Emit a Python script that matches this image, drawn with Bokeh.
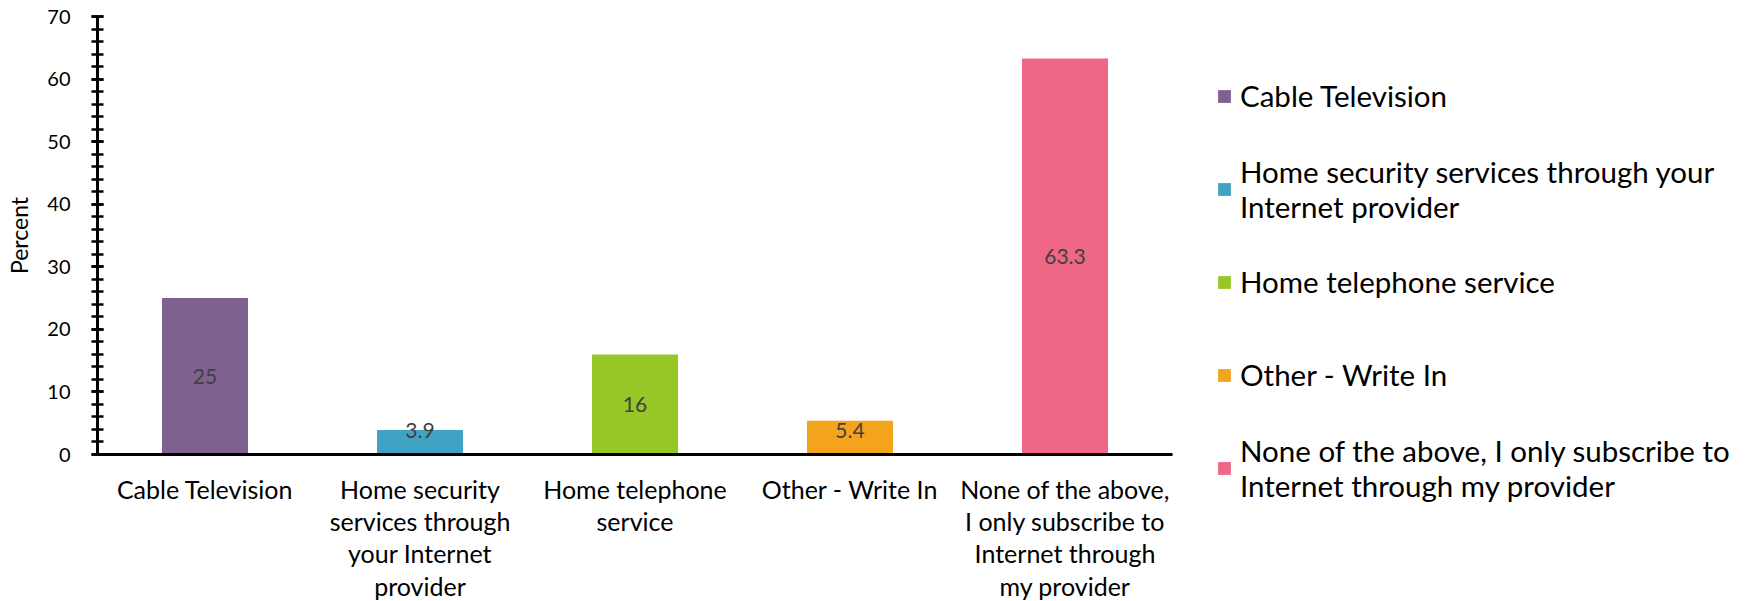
from bokeh.plotting import figure
from bokeh.models import (Range1d, FactorRange, Legend, LegendItem, ColumnDataSource,
                          LabelSet, SingleIntervalTicker)
from bokeh.core.properties import value
from bokeh.embed import file_html
from bokeh.resources import INLINE

categories = ["Cable Television",
              "Home security services through your Internet provider",
              "Home telephone service",
              "Other - Write In",
              "None of the above, I only subscribe to Internet through my provider"]
values = [25, 3.9, 16, 5.4, 63.3]
value_labels = ["25", "3.9", "16", "5.4", "63.3"]
colors = ["#7F6191", "#41A3C3", "#97C727", "#F4A31C", "#EF6687"]
tick_labels = ["Cable Television",
               "Home security\nservices through\nyour Internet\nprovider",
               "Home telephone\nservice",
               "Other - Write In",
               "None of the above,\nI only subscribe to\nInternet through\nmy provider"]
legend_labels = ["Cable Television",
                 "Home security services through your\nInternet provider",
                 "Home telephone service",
                 "Other - Write In",
                 "None of the above, I only subscribe to\nInternet through my provider"]
y_axis_title = "Percent"
y_tick_interval = 10
y_max = 70

FONT = "Lato"

label_y = [max(v / 2, 3.8) for v in values]
src = ColumnDataSource(dict(cat=tick_labels, val=values, color=colors,
                            lab=value_labels, ly=label_y))

p = figure(x_range=FactorRange(*tick_labels, range_padding=0),
           y_range=Range1d(0, y_max),
           frame_width=1075, frame_height=438,
           min_border_left=97, min_border_top=16, min_border_bottom=147,
           min_border_right=0,
           output_backend="svg", toolbar_location=None)

renderers = []
for i in range(len(categories)):
    r = p.vbar(x=[tick_labels[i]], top=[values[i]], width=0.4,
               color=colors[i], line_color=None)
    renderers.append(r)

labels = LabelSet(x="cat", y="ly", text="lab", source=src, text_align="center",
                  text_baseline="middle", text_color="#404040",
                  text_font=value(FONT), text_font_size="21px")
p.add_layout(labels)

p.grid.visible = False
p.outline_line_color = None
p.background_fill_color = "white"
p.border_fill_color = "white"

# y axis
ya = p.yaxis[0]
ya.ticker = SingleIntervalTicker(interval=y_tick_interval, num_minor_ticks=5)
ya.axis_line_width = 3
ya.axis_line_color = "black"
ya.major_tick_in = 6
ya.major_tick_out = 6
ya.minor_tick_in = 6
ya.minor_tick_out = 6
ya.major_tick_line_width = 2.5
ya.minor_tick_line_width = 2.5
ya.major_tick_line_color = "black"
ya.minor_tick_line_color = "black"
ya.major_label_text_font = FONT
ya.major_label_text_font_size = "20px"
ya.major_label_text_color = "black"
ya.major_label_standoff = 21
ya.axis_label = y_axis_title
ya.axis_label_text_font = FONT
ya.axis_label_text_font_size = "23px"
ya.axis_label_text_font_style = "normal"
ya.axis_label_text_color = "black"
ya.axis_label_standoff = 11

# x axis
xa = p.xaxis[0]
xa.axis_line_width = 3
xa.axis_line_color = "black"
xa.major_tick_line_color = None
xa.minor_tick_line_color = None
xa.major_label_text_font = FONT
xa.major_label_text_font_size = "25px"
xa.major_label_text_color = "black"
xa.major_label_text_line_height = 1.08
xa.major_label_standoff = 13

# legend
items = [LegendItem(label=legend_labels[i], renderers=[renderers[i]])
         for i in range(len(categories))]
legend = Legend(items=items, location=(44, -60))
legend.label_text_font = FONT
legend.label_text_font_size = "29.5px"
legend.label_text_color = "black"
legend.label_text_line_height = 1.33
legend.glyph_width = 16
legend.glyph_height = 16
legend.label_standoff = 8
legend.label_height = 93
legend.spacing = 0
legend.margin = 0
legend.padding = 0
legend.border_line_color = None
legend.background_fill_alpha = 0
p.add_layout(legend, "right")
p.min_border_right = 582

open("out.html", "w").write(file_html(p, INLINE))
